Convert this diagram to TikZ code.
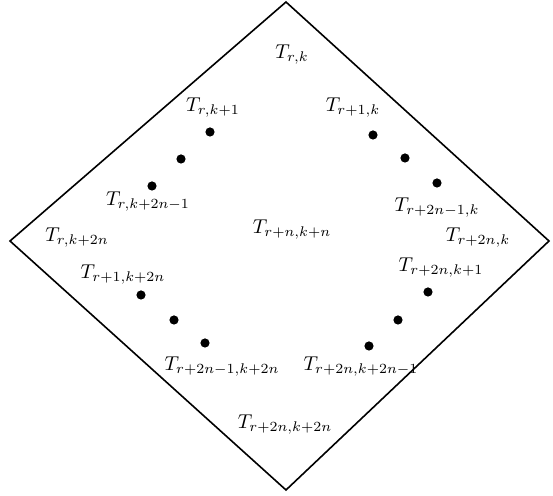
\documentclass[tikz,border=0pt]{standalone}
\begin{document}
\begin{tikzpicture}[x=0.5pt,y=-0.5pt,
  lbl/.style={inner sep=0pt},
  dotnode/.style={circle,fill=black,inner sep=0pt,minimum size=4.6pt}]
\useasboundingbox (0,0) rectangle (553,496);
\coordinate (top) at (286,2);
\coordinate (left) at (10,241);
\coordinate (bot) at (286,490);
\coordinate (right) at (549,241);
\draw[line width=0.8pt,line join=miter] (top) -- (right) -- (bot) -- (left) -- cycle;
\node[lbl] (a) at (292,55) {$T_{r,k}$};
\node[lbl] (b) at (213,108) {$T_{r,k+1}$};
\node[lbl] (c) at (353,108) {$T_{r+1,k}$};
\node[lbl] (d) at (148,202) {$T_{r,k+2n-1}$};
\node[lbl] (e) at (437,208) {$T_{r+2n-1,k}$};
\node[lbl] (f) at (77,238) {$T_{r,k+2n}$};
\node[lbl] (g) at (292,230) {$T_{r+n,k+n}$};
\node[lbl] (h) at (478,238) {$T_{r+2n,k}$};
\node[lbl] (i) at (441,268) {$T_{r+2n,k+1}$};
\node[lbl] (j) at (123,275) {$T_{r+1,k+2n}$};
\node[lbl] (k) at (222,367) {$T_{r+2n-1,k+2n}$};
\node[lbl] (l) at (361,367) {$T_{r+2n,k+2n-1}$};
\node[lbl] (m) at (285,425) {$T_{r+2n,k+2n}$};
\node[dotnode] (d1) at (210,132) {};
\node[dotnode] (d2) at (181,159) {};
\node[dotnode] (d3) at (152,186) {};
\node[dotnode] (d4) at (373,135) {};
\node[dotnode] (d5) at (405,158) {};
\node[dotnode] (d6) at (437,183) {};
\node[dotnode] (d7) at (141,295) {};
\node[dotnode] (d8) at (174,320) {};
\node[dotnode] (d9) at (205,343) {};
\node[dotnode] (d10) at (428,292) {};
\node[dotnode] (d11) at (398,320) {};
\node[dotnode] (d12) at (369,346) {};
\end{tikzpicture}
\end{document}
